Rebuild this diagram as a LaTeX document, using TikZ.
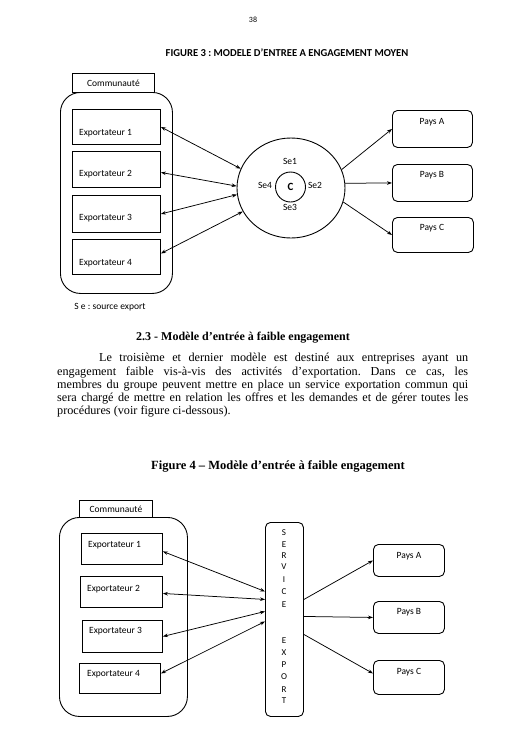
\documentclass[tikz,border=0pt]{standalone}
\usepackage{fontspec}
\setmainfont{Liberation Serif}
\newfontfamily\diag{Carlito}
\usetikzlibrary{arrows.meta,shapes.geometric}
\frenchspacing
\begin{document}
\begin{tikzpicture}[x=1pt,y=-1pt,
  lw/.style={line width=0.9pt},
  sqbox/.style={draw,lw,inner sep=0,anchor=north west},
  rbox/.style={draw,lw,inner sep=0,anchor=north west,rounded corners=5pt},
  cont/.style={draw,lw,inner sep=0,anchor=north west,rounded corners=20pt},
  lbl/.style={font=\diag\fontsize{9.5}{11}\selectfont,inner sep=0},
  svcl/.style={font=\diag\fontsize{9}{11}\selectfont,inner sep=0},
  para/.style={font=\fontsize{12.2}{13}\selectfont,inner sep=0,anchor=base west},
  arr/.style={-{Stealth[length=5pt,width=3.6pt]},line width=0.75pt},
  dbl/.style={{Stealth[length=5pt,width=3.6pt]}-{Stealth[length=5pt,width=3.6pt]},line width=0.75pt}]
\useasboundingbox[fill=white] (0,0) rectangle (504,737);

% page number and title
\node[lbl,font=\diag\fontsize{8}{10}\selectfont] (pg) at (253,20) {38};
\node[lbl,font=\diag\bfseries\fontsize{10.6}{12}\selectfont] (t3) at (287,53) {FIGURE 3 : MODELE D’ENTREE A ENGAGEMENT MOYEN};

% ---------- Figure 3 ----------
\node[cont,minimum width=112pt,minimum height=201pt] (comm3) at (60,92) {};
\node[sqbox,lbl,minimum width=82pt,minimum height=19pt] (tab3) at (72,73) {Communauté};
\node[sqbox,minimum width=88pt,minimum height=35pt] (e1) at (72,109) {};
\node[sqbox,minimum width=88pt,minimum height=36pt] (e2) at (72,151) {};
\node[sqbox,minimum width=88pt,minimum height=37pt] (e3) at (72,195) {};
\node[sqbox,minimum width=88pt,minimum height=35pt] (e4) at (72,239) {};
\node[lbl,anchor=base west] (e1t) at (79,135) {Exportateur 1};
\node[lbl,anchor=base west] (e2t) at (79,176) {Exportateur 2};
\node[lbl,anchor=base west] (e3t) at (79,220) {Exportateur 3};
\node[lbl,anchor=base west] (e4t) at (79,265) {Exportateur 4};
\node[lbl] (se) at (110,307) {S e : source export};

\node[draw,lw,ellipse,minimum width=108pt,minimum height=100pt,inner sep=0] (circ) at (291,188) {};
\node[draw,lw,circle,minimum size=30pt,inner sep=0,font=\diag\bfseries\fontsize{11}{12}\selectfont] (core) at (290.5,187) {C};
\node[lbl] (se1) at (290,161) {Se1};
\node[lbl] (se2) at (315,185) {Se2};
\node[lbl] (se3) at (290,207) {Se3};
\node[lbl] (se4) at (265,185) {Se4};

\node[rbox,minimum width=80pt,minimum height=37pt] (pa3) at (392,110) {};
\node[rbox,minimum width=80pt,minimum height=37pt] (pb3) at (392,164) {};
\node[rbox,minimum width=81pt,minimum height=35pt] (pc3) at (392,217) {};
\node[lbl] (pa3t) at (432,122) {Pays A};
\node[lbl] (pb3t) at (432,175) {Pays B};
\node[lbl] (pc3t) at (432,228) {Pays C};

\draw[dbl] (e1.east) -- (circ.159);
\draw[dbl] ([yshift=-3pt]e2.east) -- (circ.178);
\draw[dbl] (e3.east) -- (circ.187);
\draw[dbl] ([yshift=3.5pt]e4.east) -- (circ.206);
\draw[arr] (circ.20) -- (pa3.west);
\draw[arr] (circ.5) -- (pb3.west);
\draw[arr] (circ.-15) -- (pc3.west);

% ---------- Text ----------
\node[font=\bfseries\fontsize{12}{14}\selectfont,inner sep=0] (h23) at (243,338) {2.3 - Modèle d’entrée à faible engagement};
\node[para] (p1) at (99,361) {\makebox[369pt][s]{Le troisième et dernier modèle est destiné aux entreprises ayant un}};
\node[para] (p2) at (57,375) {\makebox[411pt][s]{engagement faible vis-à-vis des activités d’exportation. Dans ce cas, les}};
\node[para] (p3) at (57,388) {\makebox[411pt][s]{membres du groupe peuvent mettre en place un service exportation commun qui}};
\node[para] (p4) at (57,401) {\makebox[411pt][s]{sera chargé de mettre en relation les offres et les demandes et de gérer toutes les}};
\node[para] (p5) at (57,414) {procédures (voir figure ci-dessous).};
\node[font=\bfseries\fontsize{12.5}{14}\selectfont,inner sep=0] (t4) at (278,466) {Figure 4 – Modèle d’entrée à faible engagement};

% ---------- Figure 4 ----------
\node[cont,minimum width=128pt,minimum height=199pt] (comm4) at (59,517) {};
\node[sqbox,lbl,minimum width=73pt,minimum height=17pt] (tab4) at (79,500) {Communauté};
\node[sqbox,minimum width=81pt,minimum height=31pt] (f1) at (81,533) {};
\node[sqbox,minimum width=82pt,minimum height=31pt] (f2) at (80,576) {};
\node[sqbox,minimum width=80pt,minimum height=32pt] (f3) at (82,620) {};
\node[sqbox,minimum width=81pt,minimum height=30pt] (f4) at (79,663) {};
\node[lbl,anchor=base west] (f1t) at (88,547) {Exportateur 1};
\node[lbl,anchor=base west] (f2t) at (87,591) {Exportateur 2};
\node[lbl,anchor=base west] (f3t) at (89,633) {Exportateur 3};
\node[lbl,anchor=base west] (f4t) at (87,676) {Exportateur 4};

\node[rbox,minimum width=38pt,minimum height=194pt] (svc) at (265,522) {};
\foreach \ch/\yy in {S/533,E/545,R/556,V/567,I/580,C/592,E/605,E/641,X/653,P/665,O/677,R/690,T/701}
  \node[svcl] (l\yy) at (284,\yy) {\ch};

\node[rbox,minimum width=71pt,minimum height=32pt] (pa4) at (373,544) {};
\node[rbox,minimum width=71pt,minimum height=32pt] (pb4) at (373,601) {};
\node[rbox,minimum width=71pt,minimum height=34pt] (pc4) at (373,660) {};
\node[lbl] (pa4t) at (409,556) {Pays A};
\node[lbl] (pb4t) at (409,612) {Pays B};
\node[lbl] (pc4t) at (409,672) {Pays C};

\draw[dbl] ([yshift=-2.5pt]f1.east) -- ([yshift=28pt]svc.west);
\draw[dbl] ([yshift=-1.5pt]f2.east) -- ([yshift=20pt]svc.west);
\draw[dbl] (f3.east) -- ([yshift=8pt]svc.west);
\draw[dbl] ([yshift=5pt]f4.east) -- ([yshift=-2pt]svc.west);
\draw[arr] ([yshift=20pt]svc.east) -- (pa4.west);
\draw[arr] ([yshift=3pt]svc.east) -- (pb4.west);
\draw[arr] ([yshift=-15pt]svc.east) -- ([yshift=4pt]pc4.west);
\end{tikzpicture}
\end{document}
